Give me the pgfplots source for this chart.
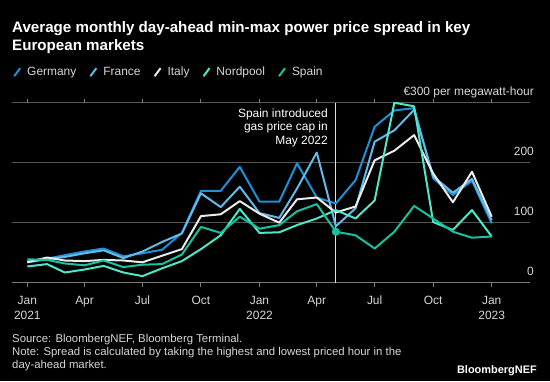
\documentclass[border=0pt]{standalone}
\usepackage{pgfplots}
\usepackage{pgfplotstable}
\pgfplotsset{compat=1.18}
\usepackage{fontspec}
\setmainfont{Liberation Sans}
\definecolor{cGer}{RGB}{29,145,214}
\definecolor{cFra}{RGB}{100,185,235}
\definecolor{cIta}{RGB}{235,235,235}
\definecolor{cNor}{RGB}{80,230,200}
\definecolor{cSpa}{RGB}{20,195,160}
\definecolor{txt}{RGB}{215,215,215}
\definecolor{grd}{RGB}{85,85,85}
\definecolor{axl}{RGB}{125,125,125}

\pgfplotstableread{
d Ger Fra Ita Nor Spa
0 36 34 34 27 39
31 40 39 42 31 38
59 46 43 37 17 32
90 52 49 36 22 29
120 57 54 38 28 37
151 44 41 37 17 26
181 49 52 34 11 30
212 55 68 45 24 31
243 83 82 56 36 47
273 153 149 111 56 93
304 153 126 114 79 83
334 193 160 136 123 110
365 135 116 115 83 90
396 135 108 100 84 96
424 199 157 139 96 119
455 142 217 142 107 131
485 132 94 117 121 85
516 171 124 127 107 79
546 260 235 204 137 57
577 287 254 220 300 85
608 291 288 246 294 128
638 174 177 182 101 107
669 146 150 134 88 85
699 170 173 185 121 75
730 99 104 110 77 77
}\spread

\begin{document}
\begin{tikzpicture}[x=1bp,y=1bp]
\fill[black] (0,0) rectangle (550,381);
\begin{axis}[
  at={(12bp,98.3bp)}, anchor=south west,
  scale only axis, width=518bp, height=180bp,
  xmin=-24.05, xmax=790.2, ymin=0, ymax=300,
  axis line style={draw=none},
  xtick={0,90,181,273,365,455,546,638,730},
  xticklabels={{Jan\\2021},Apr,Jul,Oct,{Jan\\2022},Apr,Jul,Oct,{Jan\\2023}},
  xticklabel style={align=center, anchor=north, inner sep=0pt, yshift=-9bp},
  ytick={0,100,200,300},
  yticklabels={0,100,200,{€300 per megawatt-hour}},
  yticklabel pos=right,
  yticklabel style={anchor=base east, inner sep=0pt, yshift=7bp},
  ytick style={draw=none},
  xtick style={draw=axl, line width=1bp},
  tick align=outside, major tick length=4bp,
  ymajorgrids, grid style={draw=grd, line width=1bp},
  tick label style={font=\fontsize{12}{15}\selectfont, text=txt},
  /pgf/number format/assume math mode=true,
  legend columns=-1,
  legend style={at={(axis description cs:0,1)}, anchor=west, yshift=30.5bp, xshift=1bp,
    draw=none, fill=none, inner sep=0pt, text=txt,
    font=\fontsize{12}{14}\selectfont,
    column sep=0pt,
    nodes={inner sep=0pt},
    /tikz/every even column/.style={},
    /tikz/every odd column/.style={}},
  legend image code/.code={\draw[#1, line width=2bp] (0bp,-4bp) -- (6bp,4bp);},
  every axis plot/.append style={line width=2bp, line join=round, mark=none},
]
\draw[axl, line width=1bp] (axis cs:-24.05,0) -- (axis cs:790.2,0);
\draw[txt!80, line width=0.8bp] (axis cs:485,0) -- (axis cs:485,300);
\addplot[cGer] table[x=d, y=Ger] {\spread};
\addlegendentry{\hspace*{6bp}Germany\hspace*{13bp}}
\addplot[cFra] table[x=d, y=Fra] {\spread};
\addlegendentry{\hspace*{6bp}France\hspace*{13bp}}
\addplot[cIta] table[x=d, y=Ita] {\spread};
\addlegendentry{\hspace*{6bp}Italy\hspace*{13bp}}
\addplot[cNor] table[x=d, y=Nor] {\spread};
\addlegendentry{\hspace*{6bp}Nordpool\hspace*{13bp}}
\addplot[cSpa] table[x=d, y=Spa] {\spread};
\addlegendentry{\hspace*{6bp}Spain}
\addplot[only marks, mark=*, mark size=3bp, color=cSpa, forget plot] coordinates {(485,85)};
\end{axis}
% title
\node[anchor=north west, inner sep=0pt, align=left, text=white,
  font=\fontsize{15.2}{18.3}\bfseries\selectfont] at (12,360)
  {Average monthly day-ahead min-max power price spread in key\\European markets};
% annotation
\node[anchor=north east, inner sep=0pt, align=right, text=white,
  font=\fontsize{12}{13.6}\selectfont] at (328,272.5)
  {Spain introduced\\gas price cap in\\May 2022};
% footer
\node[anchor=north west, inner sep=0pt, align=left, text=txt,
  font=\fontsize{11.4}{13.3}\selectfont] at (12,47)
  {Source: BloombergNEF, Bloomberg Terminal.\\Note: Spread is calculated by taking the highest and lowest priced hour in the\\day-ahead market.};
\node[anchor=base east, inner sep=0pt, text=white,
  font=\fontsize{11}{13}\bfseries\selectfont] at (537,7.7) {BloombergNEF};
\end{tikzpicture}
\end{document}
